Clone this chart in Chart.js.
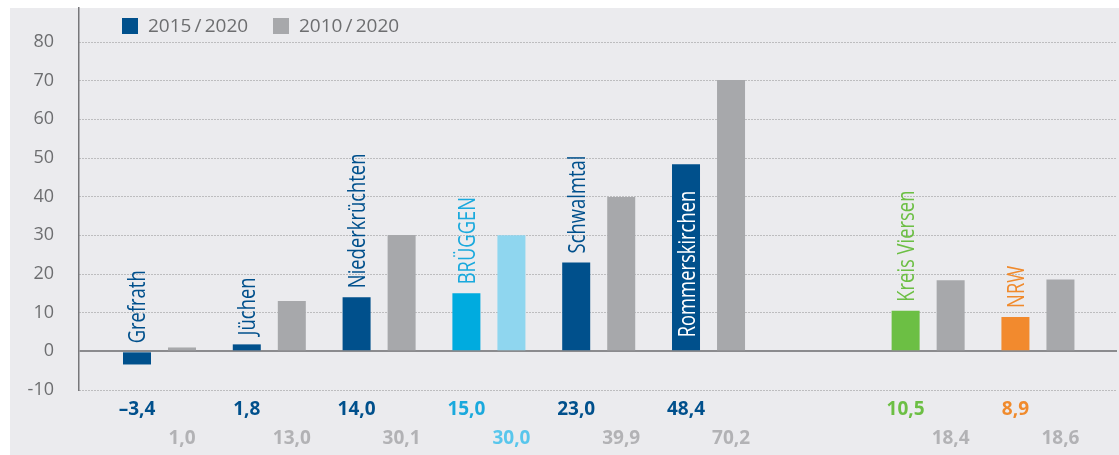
<!DOCTYPE html>
<html>
<head>
<meta charset="utf-8">
<script src="https://cdn.jsdelivr.net/npm/chart.js@4.4.0/dist/chart.umd.min.js"></script>
<style>
  html, body { margin: 0; padding: 0; background: #fff; }
</style>
</head>
<body>
<canvas id="growth-chart" width="1119" height="455"></canvas>
<script>
// Gemeinden / Vergleichsräume (leerer Eintrag = Abstand vor Kreis und Land)
const categories = ['Grefrath', 'Jüchen', 'Niederkrüchten', 'BRÜGGEN', 'Schwalmtal', 'Rommerskirchen', '', 'Kreis Viersen', 'NRW'];
const change2015 = [-3.4, 1.8, 14.0, 15.0, 23.0, 48.4, null, 10.5, 8.9];
const change2010 = [1.0, 13.0, 30.1, 30.0, 39.9, 70.2, null, 18.4, 18.6];
const seriesLabels = ['2015\u2009/\u20092020', '2010\u2009/\u20092020'];
const yTicks = [-10, 0, 10, 20, 30, 40, 50, 60, 70, 80];

// Farben
const BLUE = '#00508c';
const CYAN = '#00abdf';
const CYAN_LIGHT = '#8fd6ef';
const GREEN = '#6cbf44';
const ORANGE = '#f28a2e';
const GRAY = '#a7a8ab';
const colors2015 = [BLUE, BLUE, BLUE, CYAN, BLUE, BLUE, BLUE, GREEN, ORANGE];
const colors2010 = [GRAY, GRAY, GRAY, CYAN_LIGHT, GRAY, GRAY, GRAY, GRAY, GRAY];
const textColors2015 = [BLUE, BLUE, BLUE, '#1aa9dd', BLUE, BLUE, BLUE, '#6cbf44', '#f08a2c'];
const textColors2010 = ['#b2b2b5', '#b2b2b5', '#b2b2b5', '#58c6ec', '#b2b2b5', '#b2b2b5', '#b2b2b5', '#b2b2b5', '#b2b2b5'];

const fmt = v => (v < 0 ? '\u2013' : '') + Math.abs(v).toFixed(1).replace('.', ',');

// grauer Hintergrund
const panelBg = {
  id: 'panelBg',
  beforeDraw(chart) {
    const ctx = chart.ctx;
    ctx.save();
    ctx.fillStyle = '#ebebee';
    ctx.fillRect(10, 8, chart.width - 10, chart.height - 8);
    ctx.restore();
  }
};

// Legende oben links im Diagramm
const topLegend = {
  id: 'topLegend',
  afterDraw(chart) {
    const ctx = chart.ctx;
    const items = [
      { x: 122, color: colors2015[0], text: seriesLabels[0] },
      { x: 273, color: GRAY, text: seriesLabels[1] }
    ];
    ctx.save();
    ctx.font = '19px "Open Sans", sans-serif';
    ctx.textBaseline = 'middle';
    ctx.textAlign = 'left';
    items.forEach(it => {
      ctx.fillStyle = it.color;
      ctx.fillRect(it.x, 18, 16, 16);
      ctx.fillStyle = '#6d6e70';
      ctx.fillText(it.text, it.x + 26, 26.5);
    });
    ctx.restore();
  }
};

// Werte unter der Achse und senkrechte Namen an den Balken
const barLabels = {
  id: 'barLabels',
  afterDatasetsDraw(chart) {
    const ctx = chart.ctx;
    const bars15 = chart.getDatasetMeta(0).data;
    const bars10 = chart.getDatasetMeta(1).data;
    ctx.save();
    categories.forEach((name, i) => {
      if (change2015[i] === null) return;
      const b15 = bars15[i];
      const b10 = bars10[i];

      ctx.font = 'bold 19px "Open Sans", sans-serif';
      ctx.textAlign = 'center';
      ctx.textBaseline = 'middle';
      ctx.fillStyle = textColors2015[i];
      ctx.fillText(fmt(change2015[i]), b15.x, 410);
      ctx.fillStyle = textColors2010[i];
      ctx.fillText(fmt(change2010[i]), b10.x, 438.5);

      // langer Name passt in den Balken
      const inside = change2015[i] > 40;
      const top = Math.min(b15.y, b15.base);
      const y0 = inside ? b15.base - 13 : top - 9;
      ctx.save();
      ctx.translate(b15.x + 8.5, y0);
      ctx.rotate(-Math.PI / 2);
      ctx.scale(0.8, 1); // schmal laufende Schrift
      ctx.font = '23px "Open Sans", sans-serif';
      ctx.textAlign = 'left';
      ctx.textBaseline = 'alphabetic';
      ctx.fillStyle = inside ? '#ffffff' : textColors2015[i];
      ctx.fillText(name, 0, 0);
      ctx.restore();
    });
    ctx.restore();
  }
};

const ctx = document.getElementById('growth-chart').getContext('2d');
new Chart(ctx, {
  type: 'bar',
  data: {
    datasets: [
      {
        label: seriesLabels[0],
        data: change2015.map((v, i) => ({ x: i, y: v })),
        backgroundColor: colors2015,
        borderWidth: 0
      },
      {
        label: seriesLabels[1],
        data: change2010.map((v, i) => ({ x: i, y: v })),
        backgroundColor: colors2010,
        borderWidth: 0
      }
    ]
  },
  options: {
    responsive: false,
    animation: false,
    events: [],
    categoryPercentage: 0.82,
    barPercentage: 0.622,
    layout: { padding: { top: 8, right: 2, bottom: 65, left: 0 } },
    plugins: {
      legend: { display: false },
      tooltip: { enabled: false }
    },
    scales: {
      x: {
        type: 'linear',
        offset: false,
        min: -0.733,
        max: 8.72,
        display: false,
        afterBuildTicks: s => { s.ticks = categories.map((c, i) => ({ value: i })); }
      },
      y: {
        min: -10,
        max: 88.8,
        afterBuildTicks: s => { s.ticks = yTicks.map(v => ({ value: v })); },
        afterFit: s => { s.width = 79; },
        ticks: {
          padding: 1,
          color: '#6d6e70',
          font: { family: '"Open Sans", sans-serif', size: 18, lineHeight: 0.6 }
        },
        grid: {
          drawTicks: true,
          tickLength: 24,
          tickColor: 'rgba(0,0,0,0)',
          color: c => (c.tick && c.tick.value === 0 ? '#8b8b8e' : '#8e8e91'),
          lineWidth: c => (c.tick && c.tick.value === 0 ? 2 : 1)
        },
        border: {
          color: '#77777a',
          width: 1.5,
          dash: c => (c.tick && c.tick.value === 0 ? [] : [1, 2])
        }
      }
    }
  },
  plugins: [panelBg, barLabels, topLegend]
});
</script>
</body>
</html>
